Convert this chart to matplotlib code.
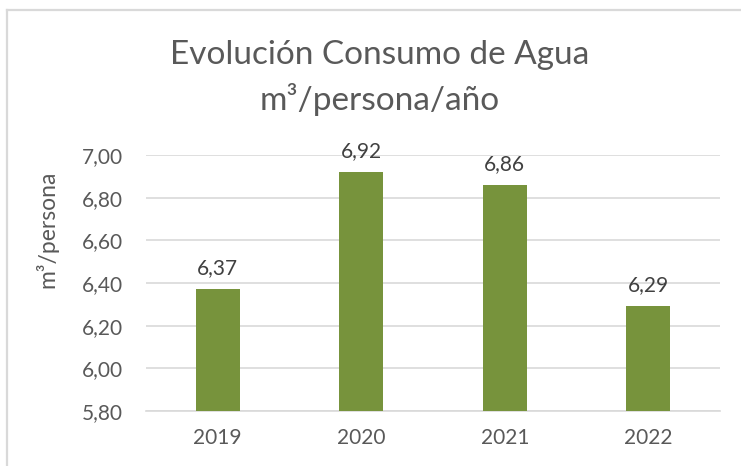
import matplotlib.pyplot as plt
from matplotlib.lines import Line2D

# Datos
anios = ['2019', '2020', '2021', '2022']
consumo = [6.37, 6.92, 6.86, 6.29]
ticks_y = [5.80, 6.00, 6.20, 6.40, 6.60, 6.80, 7.00]

W, H = 741, 466
plt.rcParams['font.family'] = ['Lato', 'DejaVu Sans']

fig = plt.figure(figsize=(W / 100, H / 100), dpi=100)

def fx(px):
    return px / W

def fy(py):
    return 1 - py / H

# Marco del gráfico (solo arriba e izquierda visibles)
fig.add_artist(Line2D([fx(6.5), 1], [fy(10), fy(10)], color='#D9D9D9', lw=1.6))
fig.add_artist(Line2D([fx(6.5), fx(6.5)], [fy(10), 0], color='#D9D9D9', lw=1.6))

ax = fig.add_axes([fx(146), fy(411), fx(720) - fx(146), fy(155) - fy(411)])
x = range(len(anios))
ax.bar(x, consumo, width=0.31, color='#77933C', zorder=3)

ax.set_xlim(-0.5, len(anios) - 0.5)
ax.set_ylim(5.80, 7.00)
ax.set_yticks(ticks_y)
ax.set_yticklabels([f'{v:.2f}'.replace('.', ',') for v in ticks_y])
ax.set_xticks(list(x))
ax.set_xticklabels(anios)
ax.tick_params(axis='both', length=0, labelsize=15, colors='#595959')
ax.tick_params(axis='y', pad=16.5)
ax.tick_params(axis='x', pad=12)
ax.yaxis.grid(True, color='#D9D9D9', lw=1.2, zorder=0)
for s in ['top', 'right', 'left']:
    ax.spines[s].set_visible(False)
ax.spines['bottom'].set_color('#D9D9D9')
ax.spines['bottom'].set_linewidth(1.2)

# Etiquetas de datos
for xi, v in zip(x, consumo):
    ax.annotate(f'{v:.2f}'.replace('.', ','), (xi, v), xytext=(0, 8),
                textcoords='offset points', ha='center', va='bottom',
                fontsize=15, color='#404040')

# Títulos
fig.text(fx(380), fy(55), 'Evolución Consumo de Agua', ha='center', va='center',
         fontsize=24, color='#595959')
fig.text(fx(380), fy(100), 'm³/persona/año', ha='center', va='center',
         fontsize=24, color='#595959')
fig.text(fx(47), fy(229), 'm³/persona', ha='center', va='center', rotation=90,
         fontsize=16.5, color='#595959')

fig.savefig('out.png', dpi=100)
